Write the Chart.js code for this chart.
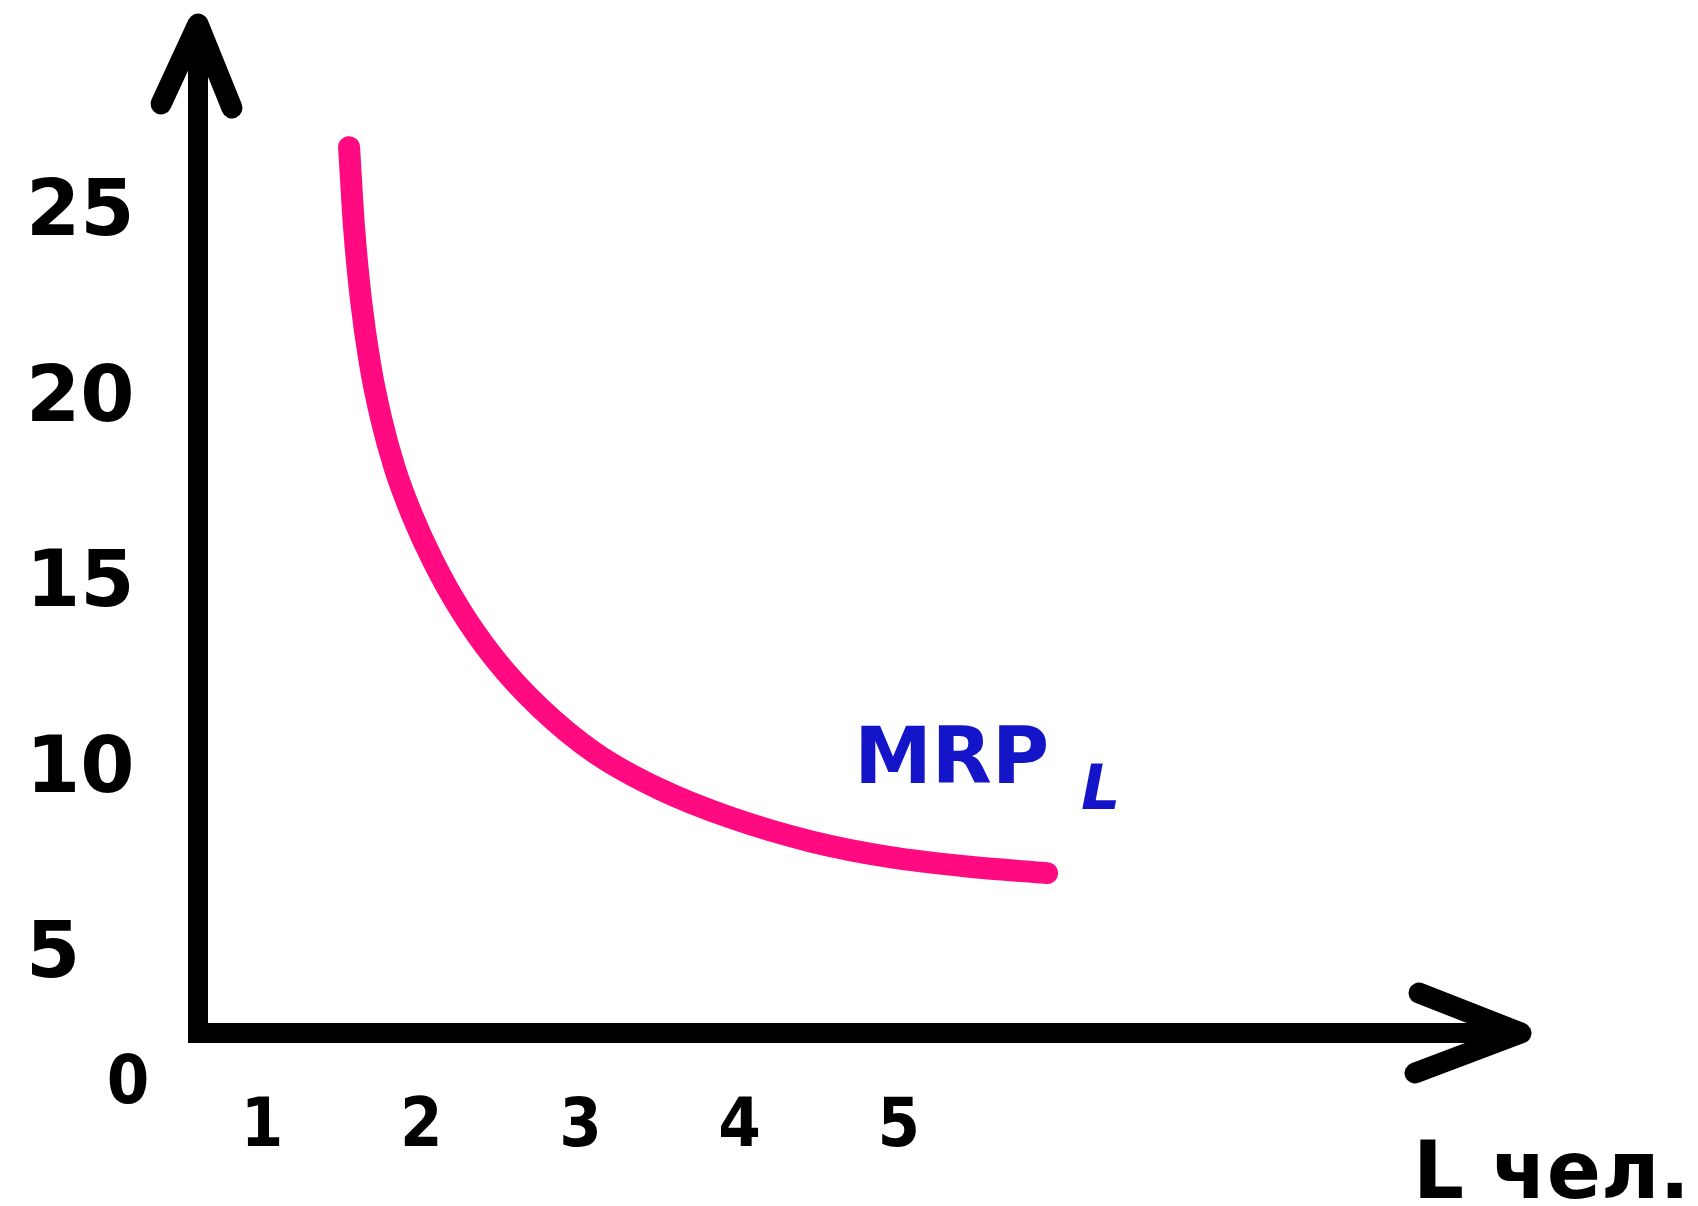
<!DOCTYPE html>
<html>
<head>
<meta charset="utf-8">
<script src="https://cdn.jsdelivr.net/npm/chart.js@4.4.1/dist/chart.umd.min.js"></script>
<style>
  html, body { margin: 0; padding: 0; background: #fff; }
  #wrap { width: 1698px; height: 1206px; position: relative; }
</style>
</head>
<body>
<div id="wrap"><canvas id="chart"></canvas></div>
<script>
// labour (people) and marginal revenue product
const laborL = [1.547, 1.578, 1.622, 1.678, 1.748, 1.835, 1.942, 2.074, 2.244, 2.464, 2.746, 3.092, 3.5, 3.94, 4.442, 4.945, 5.447, 5.931];
const mrpValues = [26.64, 24.49, 22.51, 20.81, 19.33, 17.97, 16.73, 15.49, 14.18, 12.84, 11.53, 10.31, 9.33, 8.57, 7.93, 7.5, 7.24, 7.07];
const xTickValues = [1, 2, 3, 4, 5];
const yTickValues = [5, 10, 15, 20, 25];
const originLabel = "0";
const xAxisTitle = "L чел.";
const seriesName = "MRP";
const seriesSub = "L";

const condensed = '"DejaVu Sans Condensed", "Liberation Sans Narrow", "DejaVu Sans", sans-serif';
const wide = '"DejaVu Sans", Verdana, sans-serif';

// axes with arrowheads + free text labels
const arrowAxes = {
  id: "arrowAxes",
  afterDraw(chart) {
    const ctx = chart.ctx;
    const a = chart.chartArea;
    const xs = chart.scales.x, ys = chart.scales.y;
    ctx.save();
    ctx.strokeStyle = "#000";
    ctx.lineWidth = 20;
    ctx.lineJoin = "miter";
    ctx.lineCap = "butt";
    ctx.beginPath();
    ctx.moveTo(a.left, a.top + 6);
    ctx.lineTo(a.left, a.bottom);
    ctx.lineTo(a.right - 6, a.bottom);
    ctx.stroke();

    ctx.lineWidth = 21;
    ctx.lineCap = "round";
    ctx.lineJoin = "round";
    ctx.beginPath();
    ctx.moveTo(a.left - 37, a.top + 80);
    ctx.lineTo(a.left, a.top);
    ctx.lineTo(a.left + 34, a.top + 84);
    ctx.stroke();
    ctx.beginPath();
    ctx.moveTo(a.right - 102, a.bottom - 40);
    ctx.lineTo(a.right, a.bottom);
    ctx.lineTo(a.right - 106, a.bottom + 40);
    ctx.stroke();

    ctx.fillStyle = "#000";
    ctx.font = "bold 68px " + condensed;
    ctx.textAlign = "center";
    ctx.textBaseline = "middle";
    ctx.fillText(originLabel, a.left - 70, a.bottom + 52);

    ctx.font = "bold 80px " + wide;
    ctx.textAlign = "right";
    ctx.textBaseline = "alphabetic";
    ctx.fillText(xAxisTitle, chart.width - 8, chart.height - 8);

    // MRP_L label beside the curve end
    const px = xs.getPixelForValue(4.72);
    const py = ys.getPixelForValue(9.5);
    ctx.fillStyle = "#1414c8";
    ctx.textAlign = "left";
    ctx.font = "bold 78px " + wide;
    ctx.fillText(seriesName, px, py);
    const w = ctx.measureText(seriesName).width;
    ctx.font = "italic bold 62px " + wide;
    ctx.fillText(seriesSub, px + w + 32, py + 26);
    ctx.restore();
  }
};

new Chart(document.getElementById("chart"), {
  type: "line",
  data: {
    datasets: [{
      label: seriesName + seriesSub,
      data: laborL.map((x, i) => ({ x: x, y: mrpValues[i] })),
      borderColor: "#ff0a80",
      borderWidth: 22,
      borderCapStyle: "round",
      borderJoinStyle: "round",
      pointRadius: 0,
      cubicInterpolationMode: "monotone",
      fill: false
    }]
  },
  options: {
    responsive: true,
    maintainAspectRatio: false,
    animation: false,
    layout: { padding: { top: 24, right: 177, left: 26, bottom: 0 } },
    plugins: { legend: { display: false }, tooltip: { enabled: false } },
    scales: {
      x: {
        type: "linear",
        min: 0.598,
        max: 8.908,
        grid: { display: false },
        border: { display: false },
        afterBuildTicks: s => { s.ticks = xTickValues.map(v => ({ value: v })); },
        afterFit: s => { s.height = 173; s.paddingLeft = 0; s.paddingRight = 0; },
        ticks: {
          padding: 47,
          color: "#000",
          autoSkip: false,
          maxRotation: 0,
          font: { family: condensed, size: 68, weight: "bold" }
        }
      },
      y: {
        type: "linear",
        min: 2.76,
        max: 29.96,
        grid: { display: false },
        border: { display: false },
        afterBuildTicks: s => { s.ticks = yTickValues.map(v => ({ value: v })); },
        afterFit: s => { s.width = 172; s.paddingTop = 0; s.paddingBottom = 0; },
        ticks: {
          crossAlign: "far",
          labelOffset: 7,
          color: "#000",
          autoSkip: false,
          font: { family: wide, size: 78, weight: "bold" }
        }
      }
    }
  },
  plugins: [arrowAxes]
});
</script>
</body>
</html>
